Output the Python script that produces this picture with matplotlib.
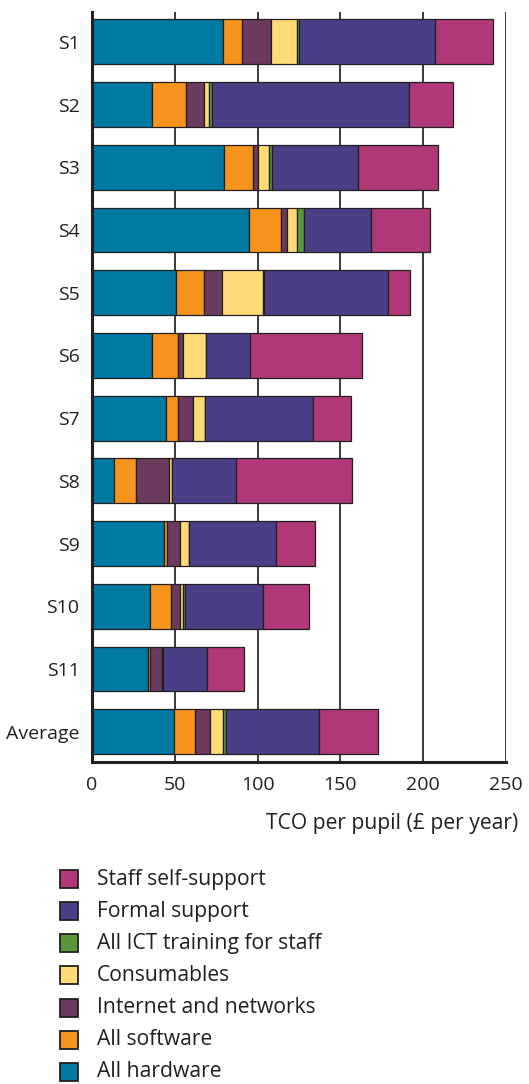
import numpy as np
import matplotlib
matplotlib.use('Agg')
import matplotlib.pyplot as plt
from matplotlib.patches import Rectangle

plt.rcParams['font.family'] = ['Open Sans', 'DejaVu Sans']

# Schools, top to bottom
schools = ['S1', 'S2', 'S3', 'S4', 'S5', 'S6', 'S7', 'S8', 'S9', 'S10', 'S11', 'Average']

# TCO components (£ per pupil per year)
hardware    = [79.1, 36.4, 79.5, 95.0, 50.9, 36.0, 44.9, 13.3, 43.5, 35.0, 33.6, 49.7]
software    = [11.6, 20.1, 17.5, 18.9, 16.9, 16.1,  7.0, 13.1,  1.8, 12.7,  1.6, 12.7]
internet    = [17.5, 11.1,  3.4,  4.0, 10.5,  3.0,  9.3, 20.1,  7.8,  5.4,  6.8,  8.8]
consumables = [15.7,  3.2,  6.4,  5.6, 25.1, 13.7,  7.2,  2.0,  5.4,  1.6,  1.0,  8.1]
training    = [ 1.0,  1.8,  1.6,  4.6,  0.6,  0.0,  0.0,  0.0,  0.0,  1.6,  0.0,  1.4]
formal      = [82.1, 118.9, 52.5, 40.1, 75.0, 26.6, 64.8, 38.6, 52.9, 47.1, 26.2, 56.5]
self_supp   = [35.4, 26.4, 47.9, 35.8, 13.1, 67.5, 22.9, 70.0, 23.2, 27.8, 22.3, 35.8]

series = [
    ('All hardware', hardware, '#0079a3'),
    ('All software', software, '#f7941d'),
    ('Internet and networks', internet, '#6b3a5d'),
    ('Consumables', consumables, '#ffdb78'),
    ('All ICT training for staff', training, '#56983a'),
    ('Formal support', formal, '#4a3f87'),
    ('Staff self-support', self_supp, '#b03876'),
]

dark = '#231f20'

fig = plt.figure(figsize=(5.29, 10.84), dpi=100)
ax = fig.add_axes([92 / 529, 1 - 762 / 1084, 414 / 529, 750 / 1084])

y = np.arange(len(schools))
left = np.zeros(len(schools))
for name, vals, col in series:
    vals = np.array(vals)
    ax.barh(y, vals, left=left, height=0.715, color=col,
            edgecolor=dark, linewidth=0.9, zorder=3)
    left += vals

ax.set_xlim(0, 250)
ax.set_ylim(11.483, -0.475)
ax.set_xticks([0, 50, 100, 150, 200, 250])
ax.set_yticks(y)
ax.set_yticklabels(schools)
for xv in [50, 100, 150, 200, 250]:
    ax.axvline(xv, color='#3a3a3a', linewidth=1.4, zorder=1)

ax.tick_params(axis='both', length=0, labelsize=14, colors=dark)
ax.tick_params(axis='x', pad=10)
ax.tick_params(axis='y', pad=9)
for s in ['top', 'right']:
    ax.spines[s].set_visible(False)
for s in ['left', 'bottom']:
    ax.spines[s].set_linewidth(2.2)
    ax.spines[s].set_color(dark)
    ax.spines[s].set_zorder(4)

fig.text(518 / 529, 1 - 823 / 1084, 'TCO per pupil (£ per year)',
         ha='right', va='center', fontsize=15.2, color=dark)

# Legend, drawn as squares and labels
for i, (name, vals, col) in enumerate(reversed(series)):
    yc = 879 + i * 32.15
    fig.add_artist(Rectangle((60 / 529, 1 - (yc + 9) / 1084), 18 / 529, 18 / 1084,
                             facecolor=col, edgecolor=dark, linewidth=1.3,
                             transform=fig.transFigure))
    fig.text(97 / 529, 1 - yc / 1084, name, ha='left', va='center',
             fontsize=15.2, color=dark)

fig.savefig('out.png', dpi=100)
